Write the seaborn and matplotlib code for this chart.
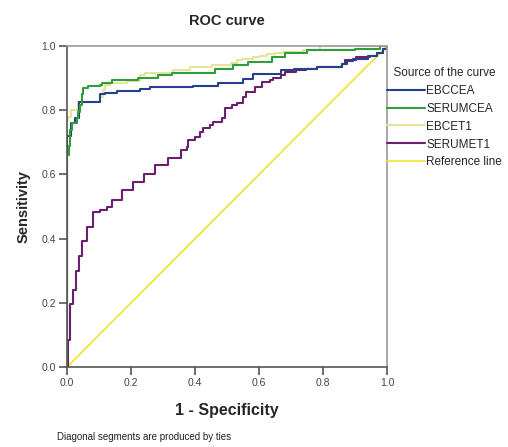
"""ROC curves for EBC / serum CEA and T1 markers."""
import matplotlib
matplotlib.use("Agg")
import matplotlib.pyplot as plt
from matplotlib.lines import Line2D
import pandas as pd
import seaborn as sns

# step points: at each fpr value the curve jumps up to the given tpr
EBCCEA_FPR = [0, 0.012, 0.025, 0.038, 0.103, 0.119, 0.155, 0.228, 0.26, 0.394, 0.472,
              0.55, 0.581, 0.67, 0.71, 0.78, 0.858, 0.874, 0.894, 0.94, 0.968, 0.988, 1.0]
EBCCEA_TPR = [0.72, 0.76, 0.775, 0.826, 0.85, 0.855, 0.86, 0.867, 0.872, 0.877, 0.886,
              0.898, 0.912, 0.925, 0.93, 0.935, 0.945, 0.952, 0.96, 0.97, 0.977, 0.99, 1.0]

SERUMCEA_FPR = [0, 0.007, 0.01, 0.015, 0.03, 0.034, 0.04, 0.046, 0.051, 0.067, 0.103,
                0.108, 0.14, 0.222, 0.284, 0.327, 0.4625, 0.52, 0.566, 0.64, 0.68, 0.75,
                0.9, 0.978, 1.0]
SERUMCEA_TPR = [0.66, 0.69, 0.738, 0.76, 0.775, 0.795, 0.816, 0.852, 0.868, 0.874, 0.879,
                0.884, 0.894, 0.90, 0.91, 0.915, 0.93, 0.94, 0.95, 0.967, 0.977, 0.988,
                0.99, 1.0, 1.0]

EBCET1_FPR = [0, 0.004, 0.012, 0.035, 0.103, 0.112, 0.119, 0.134, 0.187, 0.228, 0.244,
              0.33, 0.384, 0.452, 0.512, 0.53, 0.546, 0.58, 0.603, 0.624, 0.65, 0.675,
              0.7375, 0.79, 1.0]
EBCET1_TPR = [0.77, 0.78, 0.80, 0.826, 0.842, 0.863, 0.879, 0.884, 0.89, 0.91, 0.917,
              0.925, 0.935, 0.94, 0.947, 0.956, 0.96, 0.967, 0.97, 0.975, 0.977, 0.98,
              0.988, 1.0, 1.0]

SERUMET1_FPR = [0, 0.004, 0.009, 0.018, 0.028, 0.038, 0.046, 0.062, 0.080, 0.103, 0.124,
                0.140, 0.171, 0.206, 0.24, 0.275, 0.316, 0.355, 0.374, 0.378, 0.40, 0.416,
                0.425, 0.447, 0.456, 0.483, 0.494, 0.515, 0.53, 0.55, 0.56, 0.588, 0.61,
                0.634, 0.644, 0.67, 0.68, 0.715, 0.746, 0.78, 0.86, 0.87, 0.903, 0.947,
                0.967, 0.987, 1.0]
SERUMET1_TPR = [0, 0.084, 0.196, 0.24, 0.30, 0.346, 0.393, 0.436, 0.484, 0.49, 0.50,
                0.52, 0.55, 0.575, 0.60, 0.63, 0.65, 0.675, 0.686, 0.707, 0.717, 0.733,
                0.745, 0.754, 0.764, 0.776, 0.807, 0.816, 0.822, 0.842, 0.858, 0.873, 0.889,
                0.894, 0.90, 0.91, 0.92, 0.925, 0.93, 0.935, 0.945, 0.955, 0.966, 0.97,
                0.977, 0.99, 1.0]

REF_FPR = [0, 1]
REF_TPR = [0, 1]

SOURCES = ["EBCCEA", "SERUMCEA", "EBCET1", "SERUMET1"]
COLORS = {
    "EBCCEA": "#24408e",
    "SERUMCEA": "#2f9e3a",
    "EBCET1": "#e4e49a",
    "SERUMET1": "#6b1f6e",
    "Reference line": "#f2e53a",
}

curves = {
    "EBCCEA": (EBCCEA_FPR, EBCCEA_TPR),
    "SERUMCEA": (SERUMCEA_FPR, SERUMCEA_TPR),
    "EBCET1": (EBCET1_FPR, EBCET1_TPR),
    "SERUMET1": (SERUMET1_FPR, SERUMET1_TPR),
}
frames = []
for name, (fx, fy) in curves.items():
    # prepend origin so every curve begins at (0, 0)
    frames.append(pd.DataFrame({"fpr": [0] + fx, "tpr": [0] + fy, "source": name}))
df = pd.concat(frames, ignore_index=True)
ref = pd.DataFrame({"fpr": REF_FPR, "tpr": REF_TPR})

sns.set_style("ticks")
plt.rcParams["font.family"] = ["Liberation Sans", "DejaVu Sans"]

fig = plt.figure(figsize=(5.08, 4.47), dpi=100)
ax = fig.add_axes([0.132, 0.179, 0.630, 0.718])

sns.lineplot(data=ref, x="fpr", y="tpr", color=COLORS["Reference line"],
             linewidth=1.3, ax=ax, zorder=1)
sns.lineplot(data=df, x="fpr", y="tpr", hue="source",
             hue_order=["EBCET1", "SERUMET1", "EBCCEA", "SERUMCEA"],
             palette=COLORS, estimator=None, sort=False, drawstyle="steps-post",
             linewidth=1.5, legend=False, ax=ax, zorder=2)

ax.set_xlim(0, 1)
ax.set_ylim(0, 1)
ticks = [0, 0.2, 0.4, 0.6, 0.8, 1.0]
ax.set_xticks(ticks)
ax.set_yticks(ticks)
ax.set_xticklabels([f"{t:.1f}" for t in ticks])
ax.set_yticklabels([f"{t:.1f}" for t in ticks])
ax.tick_params(direction="out", length=6, width=1.2, color="#555555",
               labelsize=7.5, labelcolor="#444444", pad=2)
for side in ["left", "bottom"]:
    ax.spines[side].set_color("#555555")
    ax.spines[side].set_linewidth(1.2)
for side in ["top", "right"]:
    ax.spines[side].set_color("#999999")
    ax.spines[side].set_linewidth(1.2)

ax.set_title("ROC curve", fontsize=10.5, fontweight="bold", pad=15)
ax.set_xlabel("1 - Specificity", fontsize=11.5, fontweight="bold")
ax.set_ylabel("Sensitivity", fontsize=10.5, fontweight="bold")
ax.xaxis.set_label_coords(0.5, -0.112)
ax.yaxis.set_label_coords(-0.115, 0.5)

handles = [Line2D([], [], color=COLORS[s], linewidth=1.5) for s in SOURCES]
handles.append(Line2D([], [], color=COLORS["Reference line"], linewidth=1.3))
leg = ax.legend(handles, SOURCES + ["Reference line"], title="  Source of the curve",
                loc="upper left", bbox_to_anchor=(1.0, 0.935), frameon=False,
                fontsize=8.5, title_fontsize=8.5, handlelength=3.2, handletextpad=0.1,
                labelspacing=0.5, borderaxespad=0, borderpad=0)
leg._legend_box.align = "left"

fig.text(57 / 508, 1 - 437 / 447, "Diagonal segments are produced by ties",
         fontsize=7, va="center", ha="left", color="#222222")

fig.savefig("out.png", dpi=100)
